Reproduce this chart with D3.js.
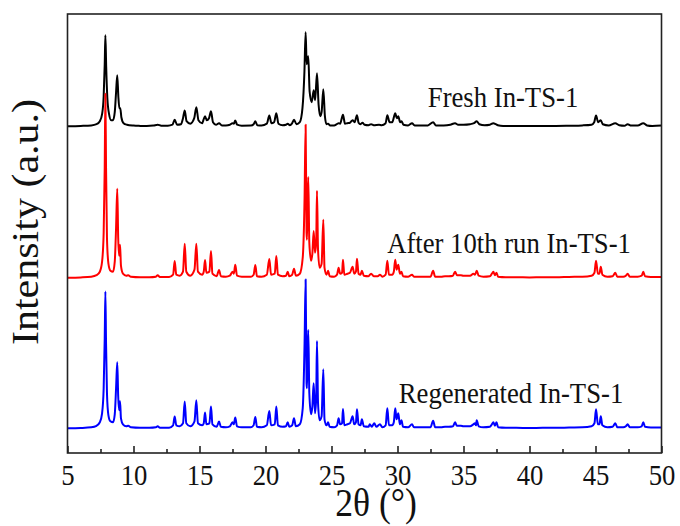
<!DOCTYPE html>
<html>
<head>
<meta charset="utf-8">
<script src="https://cdn.jsdelivr.net/npm/d3@7"></script>
<style>
  html, body { margin: 0; padding: 0; background: #fff; }
  svg { display: block; }
  text { font-family: "Liberation Serif", "Times New Roman", serif; fill: #111; }
</style>
</head>
<body>
<svg id="chart" width="680" height="526"></svg>
<script>
// XRD patterns of In-TS-1: [2θ (°), intensity above the pattern's own baseline (a.u.)]
const fresh = [
  [5.0,0],[6.0,0.3],[6.8,0.8],[7.2,2],[7.45,5],[7.62,12],[7.74,30],[7.82,62],[7.87,91],[7.93,60],[8.02,28],[8.15,12],
  [8.3,6],[8.45,6],[8.58,14],[8.68,34],[8.77,51],[8.85,30],[8.93,18],[9.0,18],[9.08,9],[9.25,3],[9.5,1.5],[10,0.6],
  [10.5,0.3],[11,0.2],[11.5,0.6],[11.83,1.5],[12.1,0.5],[12.6,0.5],[12.95,1.5],[13.12,6.4],[13.3,1.5],[13.6,2],
  [13.75,8],[13.88,15.7],[14.02,5],[14.3,2.5],[14.6,8],[14.76,19],[14.92,6],[15.2,3],[15.32,7],[15.42,10],[15.55,6],
  [15.72,8],[15.87,15],[16.02,4],[16.25,1.5],[16.48,3],[16.7,0.8],[17.0,0.8],[17.3,1.5],[17.5,3],[17.6,2.5],[17.71,5.7],
  [17.85,1.5],[18.2,0.5],[18.9,0.6],[19.1,2],[19.23,5],[19.38,1],[19.7,0.8],[20.1,2.5],[20.29,10.7],[20.45,3],[20.65,4],
  [20.82,13],[20.98,2.5],[21.3,1],[21.55,1.5],[21.68,2.5],[21.85,1],[22.0,2.5],[22.16,6.4],[22.35,2],[22.6,4],[22.8,18],
  [22.95,55],[23.04,94],[23.12,62],[23.24,70],[23.34,35],[23.5,24],[23.65,36],[23.76,26],[23.9,53],[24.02,22],[24.15,10],
  [24.25,14],[24.38,37],[24.5,10],[24.62,2],[24.74,2.5],[24.9,0.8],[25.2,0.8],[25.4,2],[25.54,3],[25.65,2.5],[25.87,11.4],
  [26.02,2.5],[26.2,3],[26.4,3.5],[26.6,6],[26.75,4],[26.93,11],[27.05,3.5],[27.2,2],[27.35,3.5],[27.5,1.5],[27.8,1],
  [28.0,2],[28.2,1],[28.6,1.5],[28.8,1],[29.1,3],[29.23,11],[29.4,4],[29.6,4],[29.83,13],[29.95,8],[30.06,10],[30.2,4],
  [30.3,5],[30.45,1.5],[30.8,0.8],[31.1,3],[31.3,0.8],[31.8,0.6],[32.3,0.8],[32.7,4],[32.9,0.8],[33.5,0.8],[34.0,1.5],
  [34.36,3],[34.6,1.5],[35.0,1.5],[35.5,2],[35.8,3],[36.0,5],[36.2,2],[36.6,1],[37.0,1.5],[37.26,3],[37.45,2],[37.6,1],
  [38.0,0.3],[39,0.3],[40,0.2],[41,0.3],[42,0.3],[43,0.5],[44,0.8],[44.7,1.5],[44.9,4],[45.04,10.7],[45.2,4],[45.4,6],
  [45.55,2],[46.0,0.8],[46.5,3],[46.8,1],[47.2,0.5],[47.43,2],[47.7,0.6],[48.2,0.6],[48.62,3],[48.9,0.8],[49.3,0.3],[50,0.6]
];

const after10 = [
  [5.0,0],[6.0,0.3],[6.8,1],[7.2,2.5],[7.45,6],[7.62,16],[7.74,45],[7.82,110],[7.87,184],[7.92,110],[7.99,40],[8.1,14],
  [8.25,7],[8.45,6],[8.58,16],[8.68,50],[8.77,89],[8.84,40],[8.91,22],[8.98,33],[9.05,12],[9.2,4],[9.45,2],[9.6,2.5],
  [9.8,1],[10.5,0.5],[11.2,0.5],[11.7,1],[11.83,2.5],[12.0,0.6],[12.7,0.6],[13.0,3],[13.12,16.7],[13.24,3],[13.5,2],
  [13.75,6],[13.88,34],[14.0,6],[14.3,2],[14.62,8],[14.76,34],[14.88,6],[15.2,3],[15.32,6],[15.42,17.7],[15.52,5],
  [15.75,6],[15.87,26.7],[15.98,4],[16.3,1.5],[16.48,7.7],[16.62,1.5],[17.0,1],[17.3,2],[17.5,6],[17.6,4],[17.71,13],
  [17.84,2],[18.2,1],[18.9,1],[19.1,3],[19.23,12.7],[19.35,1.5],[19.7,1],[20.1,3],[20.29,18.7],[20.42,3],[20.7,4],
  [20.82,21.7],[20.94,3],[21.3,1.5],[21.55,2],[21.68,6],[21.8,1.5],[22.02,3],[22.16,9],[22.3,2],[22.6,4],[22.82,20],
  [22.96,80],[23.04,153],[23.11,45],[23.14,38],[23.18,70],[23.24,100.7],[23.32,35],[23.45,17],[23.55,24],[23.65,46.7],
  [23.75,25],[23.84,35],[23.9,87],[23.98,28],[24.1,10],[24.25,14],[24.38,58],[24.47,10],[24.62,3],[24.74,7],[24.86,1.5],
  [25.2,1],[25.42,3],[25.54,10],[25.65,4],[25.8,5],[25.87,18],[25.97,3],[26.2,4],[26.4,5],[26.6,11],[26.72,4],[26.85,6],
  [26.93,19],[27.05,4],[27.2,3],[27.3,7],[27.45,2],[27.8,1.5],[28.0,4],[28.2,1.5],[28.5,1.5],[28.67,3],[28.85,1],
  [29.1,3],[29.23,17],[29.35,3],[29.6,3],[29.72,6],[29.83,18],[29.93,8],[30.06,13],[30.18,4],[30.3,6],[30.42,1.5],
  [30.8,1],[31.1,3],[31.25,1],[31.8,1],[32.5,1],[32.7,7],[32.85,1],[33.3,1],[33.6,1.5],[33.9,1.5],[34.2,2],[34.36,6],
  [34.5,2.5],[34.8,2.5],[35.0,2],[35.5,2],[35.75,4],[35.87,3],[36.0,7],[36.15,2],[36.5,1],[37.0,1.5],[37.15,4],[37.26,6],
  [37.38,2.5],[37.5,5],[37.62,1],[38.2,0.5],[39,0.5],[40,0.3],[41,0.5],[42,0.5],[43,0.8],[44,1],[44.7,2],[44.92,5],
  [45.04,17],[45.18,4],[45.3,4],[45.4,11],[45.52,3],[45.9,1],[46.3,1.5],[46.5,5],[46.65,1],[47.1,1],[47.3,2],[47.43,4],
  [47.6,1],[48.2,1],[48.5,2],[48.62,6],[48.75,1.5],[49.2,0.8],[50,0.8]
];

const regenerated = [
  [5.0,0],[6.0,0.3],[6.8,1],[7.2,2.5],[7.45,6],[7.62,15],[7.74,40],[7.82,90],[7.87,136.7],[7.92,85],[7.99,35],[8.1,13],
  [8.25,7],[8.45,6],[8.58,14],[8.68,40],[8.77,66],[8.84,32],[8.91,18],[8.98,27],[9.05,10],[9.2,4],[9.45,2],[9.6,2.5],
  [9.8,1],[10.5,0.5],[11.2,0.5],[11.7,1],[11.83,2],[12.0,0.6],[12.7,0.6],[13.0,3],[13.12,11.7],[13.24,3],[13.5,2],
  [13.75,5],[13.88,26.7],[14.0,5],[14.3,2],[14.62,7],[14.76,28],[14.88,5],[15.2,3],[15.32,5],[15.42,15.7],[15.52,4],
  [15.75,5],[15.87,21.7],[15.98,4],[16.3,1.5],[16.48,6.7],[16.62,1.5],[17.0,1],[17.3,2],[17.5,6],[17.6,4],[17.71,10.7],
  [17.84,2],[18.2,1],[18.9,1],[19.1,3],[19.23,11.3],[19.35,1.5],[19.7,1],[20.1,3],[20.29,17.3],[20.42,3],[20.7,4],
  [20.82,21.7],[20.94,3],[21.3,1.5],[21.55,2],[21.68,6],[21.8,1.5],[22.02,3],[22.16,10],[22.3,2],[22.6,4],[22.82,20],
  [22.96,85],[23.04,148.7],[23.11,45],[23.14,40],[23.18,70],[23.24,98.3],[23.32,35],[23.45,14],[23.55,22],[23.65,45],
  [23.75,15],[23.84,30],[23.9,87.3],[23.98,25],[24.1,8],[24.25,12],[24.38,59],[24.47,9],[24.62,3],[24.74,6],[24.86,1.5],
  [25.2,1],[25.42,3],[25.54,10],[25.65,4],[25.8,5],[25.87,19.3],[25.97,3],[26.2,4],[26.4,5],[26.6,12],[26.72,4],[26.85,6],
  [26.93,19],[27.05,4],[27.2,3],[27.3,9],[27.45,2],[27.8,1.5],[27.9,4],[28.05,1.5],[28.24,5],[28.4,1.5],[28.67,4],
  [28.85,1],[29.1,3],[29.23,20],[29.35,3],[29.6,3],[29.72,6],[29.83,20],[29.93,9],[30.06,15],[30.18,4],[30.3,8],
  [30.42,1.5],[30.8,1],[31.1,4],[31.25,1],[31.8,1],[32.5,1],[32.7,7.6],[32.85,1],[33.3,1],[33.6,1.5],[33.9,1.5],
  [34.2,2],[34.36,6],[34.5,2.5],[34.8,2.5],[35.0,2],[35.5,2],[35.75,4],[35.87,5],[35.95,3],[36.0,8],[36.15,2],[36.5,1],
  [37.0,1.5],[37.15,4],[37.26,6],[37.38,2.5],[37.5,6],[37.62,1],[38.2,0.5],[39,0.5],[40,0.3],[41,0.5],[42,0.5],[43,0.8],
  [44,1],[44.7,2],[44.92,5],[45.04,19],[45.18,4],[45.3,4],[45.4,12],[45.52,3],[45.9,1],[46.3,1.5],[46.5,5],[46.65,1],
  [47.1,1],[47.3,2],[47.43,4],[47.6,1],[48.2,1],[48.5,2],[48.62,6],[48.75,1.5],[49.2,0.8],[50,0.8]
];

// vertical stacking offset (a.u.) and colour of each pattern
const seriesNames   = ["Fresh In-TS-1", "After 10th run In-TS-1", "Regenerated In-TS-1"];
const seriesOffsets = [326.8, 175.3, 24.7];
const seriesColors  = ["#000000", "#ff0000", "#0000ff"];
const seriesData    = [fresh, after10, regenerated];

const xTicks      = [5, 10, 15, 20, 25, 30, 35, 40, 45, 50];
const xMinorTicks = [7.5, 12.5, 17.5, 22.5, 27.5, 32.5, 37.5, 42.5, 47.5];

// layout
const W = 680, H = 526;
const plot = { left: 67.5, right: 661.5, top: 14, bottom: 453 };
const squash = 0.89;   // horizontal condensing of the Times-style lettering

const svg = d3.select("#chart");

const x = d3.scaleLinear().domain([5, 50]).range([plot.left, plot.right]);
const y = d3.scaleLinear().domain([0, plot.bottom - plot.top]).range([plot.bottom, plot.top]);

// patterns
const line = d3.line()
  .x(d => x(d[0]))
  .y(d => y(d[1] + d[2]))
  .curve(d3.curveMonotoneX);

seriesData.forEach((data, i) => {
  svg.append("path")
    .datum(data.map(d => [d[0], d[1], seriesOffsets[i]]))
    .attr("fill", "none")
    .attr("stroke", seriesColors[i])
    .attr("stroke-width", 2)
    .attr("stroke-linejoin", "round")
    .attr("d", line);
});

// frame
svg.append("rect")
  .attr("x", plot.left).attr("y", plot.top)
  .attr("width", plot.right - plot.left)
  .attr("height", plot.bottom - plot.top)
  .attr("fill", "none")
  .attr("stroke", "#222")
  .attr("stroke-width", 1.6);

// bottom axis: inward major and minor ticks
const axisG = svg.append("g").attr("transform", `translate(0,${plot.bottom})`);
axisG.call(d3.axisBottom(x).tickValues(xTicks).tickSizeInner(-7).tickSizeOuter(0).tickFormat(d3.format("d")));
axisG.select(".domain").remove();
axisG.selectAll(".tick line").attr("stroke", "#222").attr("stroke-width", 1.6);
axisG.selectAll(".tick text")
  .attr("y", 32).attr("dy", null)
  .attr("transform", `scale(${squash},1)`)
  .style("font-family", '"Liberation Serif", "Times New Roman", serif')
  .style("font-size", "30px")
  .attr("fill", "#111");

const minorG = svg.append("g").attr("transform", `translate(0,${plot.bottom})`);
minorG.call(d3.axisBottom(x).tickValues(xMinorTicks).tickSizeInner(-4).tickSizeOuter(0).tickFormat(""));
minorG.select(".domain").remove();
minorG.selectAll(".tick line").attr("stroke", "#222").attr("stroke-width", 1.6);

// axis titles
svg.append("text")
  .attr("transform", `translate(376,516) scale(${squash},1)`)
  .attr("text-anchor", "middle")
  .style("font-size", "40px")
  .text("2θ (°)");

svg.append("text")
  .attr("transform", `translate(38,222) rotate(-90) scale(1,${squash})`)
  .attr("text-anchor", "middle")
  .style("font-size", "42px")
  .text("Intensity (a.u.)");

// pattern labels
const labelPos = [[503, 106.7], [509, 253.3], [511, 403.3]];
seriesNames.forEach((name, i) => {
  svg.append("text")
    .attr("transform", `translate(${labelPos[i][0]},${labelPos[i][1]}) scale(${squash},1)`)
    .attr("text-anchor", "middle")
    .style("font-size", "30px")
    .text(name);
});
</script>
</body>
</html>
